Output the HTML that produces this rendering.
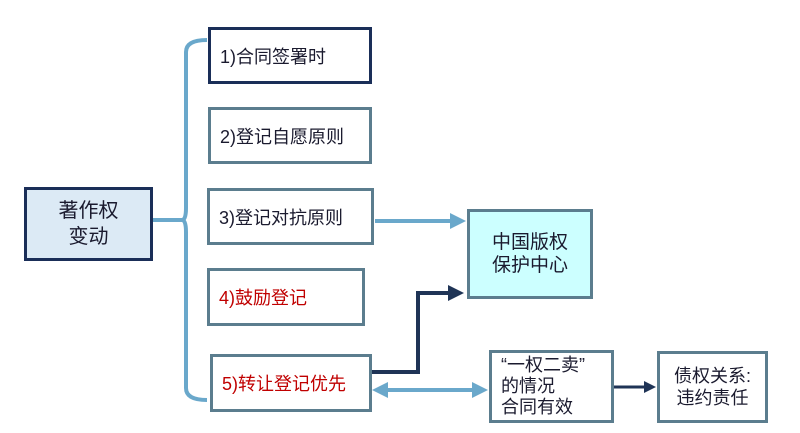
<!DOCTYPE html>
<html><head><meta charset="utf-8"><style>
html,body{margin:0;padding:0;background:#fff;}
body{width:800px;height:433px;position:relative;overflow:hidden;font-family:"Liberation Sans","Noto Sans CJK SC",sans-serif;}
.b{position:absolute;box-sizing:border-box;background:#fff;border:3px solid #5b7d8e;font-size:18px;color:#1a1a2e;display:flex;align-items:center;}
.t{padding-left:9px;}
.red{color:#c00000;}
svg{position:absolute;left:0;top:0;}
</style></head><body>
<svg width="800" height="433">
<defs>
<marker id="la" markerWidth="4" markerHeight="4" refX="3" refY="2" orient="auto"><path d="M0,0 L4,2 L0,4 Z" fill="#6aa8cb"/></marker>
<marker id="lb" markerWidth="4" markerHeight="4" refX="1" refY="2" orient="auto"><path d="M4,0 L0,2 L4,4 Z" fill="#6aa8cb"/></marker>
<marker id="da" markerWidth="4" markerHeight="4" refX="3" refY="2" orient="auto"><path d="M0,0 L4,2 L0,4 Z" fill="#1f3456"/></marker>
</defs>
<path d="M207,40 Q186,40 186,52 L186,208 Q186,220 182,220 Q186,220 186,232 L186,388 Q186,400 207,400" fill="none" stroke="#6aa8cb" stroke-width="4"/>
<line x1="152" y1="220" x2="183" y2="220" stroke="#6aa8cb" stroke-width="4"/>
<line x1="375" y1="221" x2="462" y2="221" stroke="#6aa8cb" stroke-width="4" marker-end="url(#la)"/>
<polyline points="371,372 418,372 418,293 460,293" fill="none" stroke="#1f3456" stroke-width="4" marker-end="url(#da)"/>
<line x1="376" y1="390" x2="484" y2="390" stroke="#6aa8cb" stroke-width="4" marker-start="url(#lb)" marker-end="url(#la)"/>
<line x1="613" y1="387" x2="653" y2="387" stroke="#1f3456" stroke-width="3" marker-end="url(#da)"/>
</svg>
<div class="b" style="left:24px;top:187px;width:129px;height:74px;background:#dceaf5;border-color:#1a2e58;justify-content:center;text-align:center;line-height:26px;font-size:20px;">著作权<br>变动</div>
<div class="b t" style="left:208px;top:27px;width:164px;height:57px;border-color:#1a2e58;">1)合同签署时</div>
<div class="b t" style="left:208px;top:107px;width:164px;height:57px;">2)登记自愿原则</div>
<div class="b t" style="left:207px;top:188px;width:167px;height:57px;">3)登记对抗原则</div>
<div class="b t red" style="left:207px;top:268px;width:158px;height:58px;">4)鼓励登记</div>
<div class="b t red" style="left:210px;top:354px;width:162px;height:58px;">5)转让登记优先</div>
<div class="b" style="left:467px;top:209px;width:126px;height:90px;background:#ccffff;justify-content:center;text-align:center;line-height:23px;font-size:19px;">中国版权<br>保护中心</div>
<div class="b" style="left:489px;top:350px;width:125px;height:73px;line-height:21px;padding-left:9px;">“一权二卖”<br>的情况<br>合同有效</div>
<div class="b" style="left:657px;top:351px;width:111px;height:72px;justify-content:center;text-align:center;line-height:22px;">债权关系:<br>违约责任</div>
</body></html>
